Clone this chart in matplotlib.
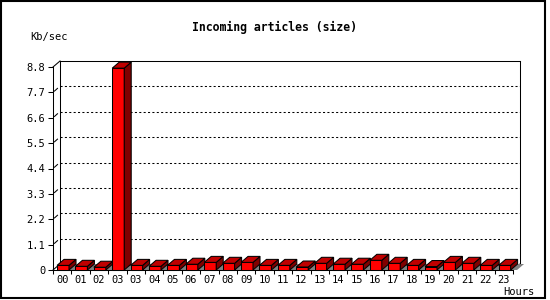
#!/usr/bin/env python3
"""Incoming articles (size) per hour, drawn as GD-style 3D bars."""

import matplotlib

matplotlib.use("Agg")
import matplotlib.pyplot as plt
from matplotlib.patches import Polygon, Rectangle

hours = ["00", "01", "02", "03", "03", "04", "05", "06", "07", "08", "09", "10",
         "11", "12", "13", "14", "15", "16", "17", "18", "19", "20", "21", "22", "23"]
kb_sec = [0.20, 0.16, 0.12, 8.75, 0.20, 0.16, 0.20, 0.25, 0.33, 0.29, 0.33, 0.20,
          0.20, 0.13, 0.29, 0.25, 0.25, 0.42, 0.29, 0.20, 0.15, 0.33, 0.29, 0.20, 0.20]
y_ticks = [0, 1.1, 2.2, 3.3, 4.4, 5.5, 6.6, 7.7, 8.8]
y_labels = ["0", "1.1", "2.2", "3.3", "4.4", "5.5", "6.6", "7.7", "8.8"]

W, H = 550, 300
AX_L, AX_B, AX_W, AX_H = 53, 30, 460, 203
MONO = "DejaVu Sans Mono"

fig = plt.figure(figsize=(W / 100, H / 100), dpi=100)
fig.patch.set_facecolor("white")
ax = fig.add_axes([AX_L / W, AX_B / H, AX_W / W, AX_H / H])
n = len(hours)
ymax = y_ticks[-1]
ax.set_xlim(0, n)
ax.set_ylim(0, ymax)
ax.set_facecolor("none")

# pixel -> data units, used for the 3D depth offset
xu = n / AX_W
yu = ymax / AX_H
DX, DY = 7 * xu, 6 * yu
LW = 0.75

line_kw = dict(color="black", lw=LW, clip_on=False, zorder=1)
# back wall
ax.plot([DX, DX], [DY, ymax + DY], **line_kw)
ax.plot([DX, n + DX], [ymax + DY, ymax + DY], **line_kw)
ax.plot([n + DX, n + DX], [DY, ymax + DY], **line_kw)
ax.plot([0, DX], [ymax, ymax + DY], **line_kw)
ax.plot([0, DX], [0, DY], **line_kw)
ax.plot([n, n + DX], [0, DY], **line_kw)
for v in y_ticks[1:-1]:
    ax.plot([DX, n + DX], [v + DY, v + DY], color="black", lw=LW,
            linestyle=(0, (2, 2.2)), clip_on=False, zorder=1)
    ax.plot([1.5 * xu, 4.5 * xu], [v + 1.3 * yu, v + 4 * yu], **line_kw)

# bars
x0, bw = 0.22, 0.65
gap = 1 - bw
edge = dict(edgecolor="black", lw=LW, clip_on=False, zorder=3)
for i, v in enumerate(kb_sec):
    xl = i + x0
    xr = xl + bw
    ax.add_patch(Polygon([(xr, 0), (xr + gap, 0), (xr + gap + DX, DY), (xr + DX, DY)],
                         closed=True, facecolor="#808080", edgecolor="none",
                         clip_on=False, zorder=2))
    ax.add_patch(Rectangle((xl, 0), bw, v, facecolor="#ff0000", **edge))
    ax.add_patch(Polygon([(xr, 0), (xr + DX, DY), (xr + DX, v + DY), (xr, v)],
                         closed=True, facecolor="#800000", **edge))
    ax.add_patch(Polygon([(xl, v), (xr, v), (xr + DX, v + DY), (xl + DX, v + DY)],
                         closed=True, facecolor="#c00000", **edge))

# axes and ticks
for side in ("top", "right"):
    ax.spines[side].set_visible(False)
for side in ("left", "bottom"):
    ax.spines[side].set_linewidth(LW)
ax.set_yticks(y_ticks)
ax.set_yticklabels(y_labels, family=MONO, fontsize=7.5)
ax.tick_params(axis="y", length=3.6, width=LW, pad=2)
ax.set_xticks(range(n + 1))
ax.set_xticklabels([])
ax.tick_params(axis="x", which="major", length=3, width=LW)
ax.set_xticks([i + 0.5 for i in range(n)], minor=True)
ax.set_xticklabels(hours, minor=True, family=MONO, fontsize=7.5)
ax.tick_params(axis="x", which="minor", length=0, pad=3.5)

fig.text(274 / W, 1 - 27 / H, "Incoming articles (size)", ha="center", va="center",
         family=MONO, fontweight="bold", fontsize=8.3)
fig.text(30 / W, 1 - 37 / H, "Kb/sec", ha="left", va="center", family=MONO, fontsize=7.5)
fig.text(534 / W, 1 - 292 / H, "Hours", ha="right", va="center", family=MONO, fontsize=7.5)

fig.add_artist(Rectangle((1 / W, 2 / H), 544 / W, 297 / H, transform=fig.transFigure,
                         fill=False, edgecolor="black", lw=1.5))

fig.savefig("out.png", dpi=100)
